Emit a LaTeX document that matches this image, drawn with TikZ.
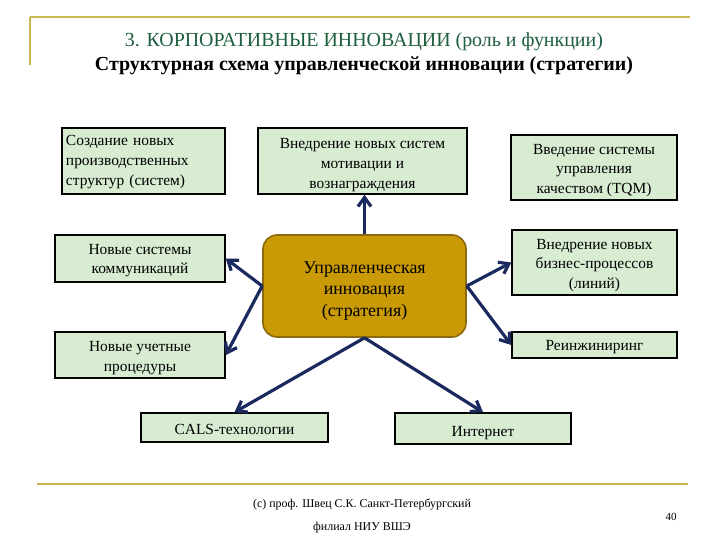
\documentclass[tikz,border=0pt]{standalone}
\usepackage{fontspec}
\setmainfont{Liberation Serif}
\usetikzlibrary{arrows.meta}
\definecolor{boxfill}{HTML}{D8ECD2}
\definecolor{centfill}{HTML}{C99A06}
\definecolor{centline}{HTML}{8C6A10}
\definecolor{arrowc}{HTML}{1B2A5E}
\definecolor{goldline}{HTML}{C8B850}
\definecolor{titlegreen}{HTML}{1F5F3F}
\tikzset{
  x=1bp, y=-1bp,
  gbox/.style={draw=black, line width=1.5bp, fill=boxfill, inner sep=0bp},
  gtext/.style={inner sep=0bp, align=center, font=\fontsize{15.5}{19.8}\selectfont},
  cbox/.style={draw=centline, line width=1.6bp, fill=centfill, rounded corners=14bp, inner sep=0bp},
  ctext/.style={inner sep=0bp, align=center, font=\fontsize{18}{21.5}\selectfont},
  conn/.style={draw=arrowc, line width=3.2bp, -{Straight Barb[length=9bp,width=13bp]}},
  gline/.style={draw=goldline, line width=2.4bp},
}
\begin{document}
\begin{tikzpicture}
\useasboundingbox (0,0) rectangle (720,540);
\fill[white] (0,0) rectangle (720,540);
% header lines
\draw[gline] (30,17) -- (690,17);
\draw[gline] (30,17) -- (30,65);
\node[text=titlegreen, font=\fontsize{20}{22}\selectfont] (t1) at (364,42) {3. КОРПОРАТИВНЫЕ ИННОВАЦИИ (роль и функции)};
\node[font=\fontsize{20}{22}\selectfont\bfseries] (t2) at (364,66) {Структурная схема управленческой инновации (стратегии)};
% boxes
\node[gbox, minimum width=163bp, minimum height=66bp] (b1) at (143.5,161) {};
\node[gtext, align=left, text width=155bp] (b1t) at ([yshift=-1bp]b1.center)
  {Создание новых\\производственных\\структур (систем)};
\node[gbox, minimum width=209bp, minimum height=66bp] (b2) at (362.5,161) {};
\node[gtext] (b2t) at ([yshift=-4bp]b2.center)
  {Внедрение новых систем\\мотивации и\\вознаграждения};
\node[gbox, minimum width=166bp, minimum height=65bp] (b3) at (594,167.5) {};
\node[gtext] (b3t) at ([yshift=-3bp]b3.center)
  {Введение системы\\управления\\качеством (TQM)};
\node[gbox, minimum width=170bp, minimum height=47bp] (b4) at (140,258.5) {};
\node[gtext] (b4t) at ([yshift=-2bp]b4.center)
  {Новые системы\\коммуникаций};
\node[cbox, minimum width=203bp, minimum height=102bp] (c) at (364.5,286) {};
\node[ctext] (ct) at ([yshift=-5bp]c.center)
  {Управленческая\\инновация\\(стратегия)};
\node[gbox, minimum width=165bp, minimum height=65bp] (b6) at (594.5,262.5) {};
\node[gtext] (b6t) at ([yshift=-3bp]b6.center)
  {Внедрение новых\\бизнес-процессов\\(линий)};
\node[gbox, minimum width=170bp, minimum height=46bp] (b7) at (140,355) {};
\node[gtext] (b7t) at ([yshift=-3bp]b7.center)
  {Новые учетные\\процедуры};
\node[gbox, minimum width=165bp, minimum height=26bp] (b8) at (594.5,345) {};
\node[gtext] (b8t) at ([yshift=-2bp]b8.center) {Реинжиниринг};
\node[gbox, minimum width=187bp, minimum height=29bp] (b9) at (234.5,427.5) {};
\node[gtext] (b9t) at ([yshift=-2bp]b9.center) {CALS-технологии};
\node[gbox, minimum width=176bp, minimum height=31bp] (b10) at (483,428.5) {};
\node[gtext] (b10t) at ([yshift=-5bp]b10.center) {Интернет};
% connectors
\draw[conn] (c.north) -- (c.north |- b2.south);
\draw[conn] (c.west) -- (b4.east);
\draw[conn] (c.west) -- (b7.east);
\draw[conn] (c.east) -- (b6.west);
\draw[conn] (c.east) -- (b8.west);
\draw[conn] (c.south) -- (b9.north);
\draw[conn] (c.south) -- (b10.north);
% footer
\draw[gline] (37,484) -- (688,484);
\node[font=\fontsize{12}{24}\selectfont, align=center] (f) at (362,516)
  {(с) проф. Швец С.К. Санкт-Петербургский\\филиал НИУ ВШЭ};
\node[font=\fontsize{11}{12}\selectfont] (pg) at (671,517) {40};
\end{tikzpicture}
\end{document}
